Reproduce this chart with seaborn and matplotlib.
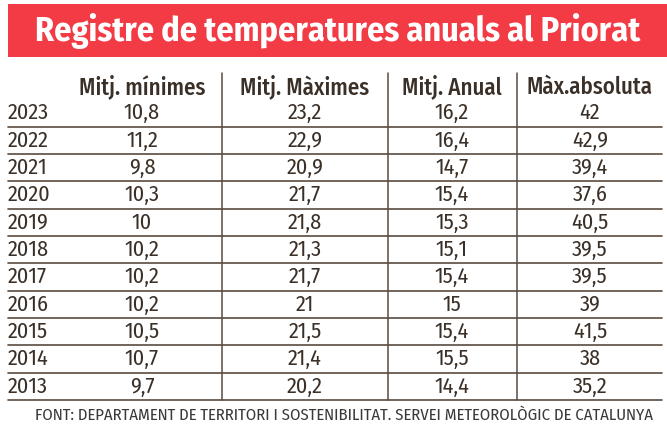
import matplotlib
matplotlib.use('Agg')
import matplotlib.pyplot as plt
import seaborn as sns

sns.set_style('white')
plt.rcParams['font.family'] = ['Fira Sans Condensed', 'Roboto Condensed', 'DejaVu Sans']

# data
years = ['2023', '2022', '2021', '2020', '2019', '2018', '2017', '2016', '2015', '2014', '2013']
mitj_minimes = ['10,8', '11,2', '9,8', '10,3', '10', '10,2', '10,2', '10,2', '10,5', '10,7', '9,7']
mitj_maximes = ['23,2', '22,9', '20,9', '21,7', '21,8', '21,3', '21,7', '21', '21,5', '21,4', '20,2']
mitj_anual = ['16,2', '16,4', '14,7', '15,4', '15,3', '15,1', '15,4', '15', '15,4', '15,5', '14,4']
max_absoluta = ['42', '42,9', '39,4', '37,6', '40,5', '39,5', '39,5', '39', '41,5', '38', '35,2']
headers = ['Mitj. mínimes', 'Mitj. Màximes', 'Mitj. Anual', 'Màx.absoluta']

fig = plt.figure(figsize=(6.67, 4.32), dpi=100)
ax = fig.add_axes([0, 0, 1, 1])
ax.set_xlim(0, 667)
ax.set_ylim(432, 0)
ax.axis('off')

red = '#F23B45'
ink = '#3a3028'
line = '#5a4c40'

# title banner
ax.add_patch(plt.Rectangle((8, 4), 659, 53, color=red, lw=0))
ax.text(338, 31, 'Registre de temperatures anuals al Priorat', color='white',
        fontsize=24.5, fontweight='bold', ha='center', va='center')

centers = [142, 305, 452, 590]
seps = [222, 388, 517]
row0 = 113
rh = 27.33

for c, h in zip(centers, headers):
    ax.text(c, 87, h, fontsize=16.5, fontweight='medium', color=ink, ha='center', va='center')

for s in seps:
    ax.plot([s, s], [73, row0 + rh * (len(years) - 0.5)], color=line, lw=1.1)

cols = [mitj_minimes, mitj_maximes, mitj_anual, max_absoluta]
for i, y in enumerate(years):
    yy = row0 + i * rh
    ax.text(8, yy, y, fontsize=16, color=ink, ha='left', va='center')
    for c, vals in zip(centers, cols):
        ax.text(c, yy, vals[i], fontsize=16, color=ink, ha='center', va='center')
    ax.plot([8, 662], [yy + rh / 2, yy + rh / 2], color=line, lw=1.2)

ax.text(344, 415, 'FONT: DEPARTAMENT DE TERRITORI I SOSTENIBILITAT. SERVEI METEOROLÒGIC DE CATALUNYA',
        fontsize=12, color='#3a3a3a', ha='center', va='center')

fig.savefig('out.png', dpi=100)
